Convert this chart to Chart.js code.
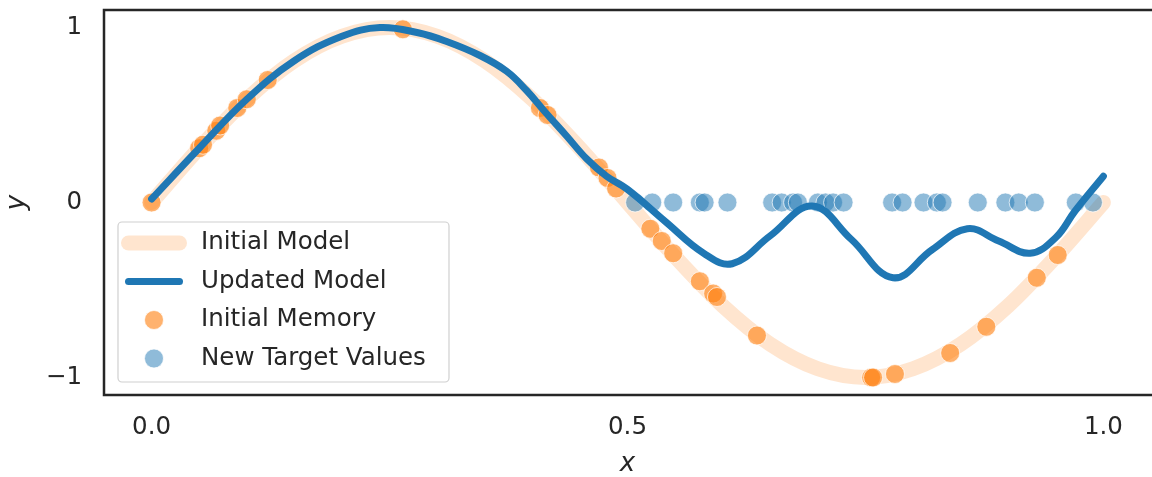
<!DOCTYPE html>
<html>
<head>
<meta charset="utf-8">
<script src="https://cdn.jsdelivr.net/npm/chart.js@4.4.1/dist/chart.umd.min.js"></script>
<style>
  html, body { margin: 0; padding: 0; background: #fff; }
  #wrap { width: 1152px; height: 477px; overflow: hidden; }
</style>
</head>
<body>
<div id="wrap"><canvas id="modelChart" width="1152" height="477"></canvas></div>
<script>
// initial model: the curve it was trained on
const modelX = [0, 0.05, 0.1, 0.15, 0.2, 0.25, 0.3, 0.35, 0.4, 0.45, 0.5,
                0.55, 0.6, 0.65, 0.7, 0.75, 0.8, 0.85, 0.9, 0.95, 1.0];
const initialY = [0, 0.31, 0.59, 0.81, 0.95, 1.0, 0.95, 0.81, 0.59, 0.31, 0,
                  -0.31, -0.59, -0.81, -0.95, -1.0, -0.95, -0.81, -0.59, -0.31, 0];

// model after the update
const updatedX = [0, 0.05, 0.1, 0.15, 0.2, 0.24, 0.28, 0.31, 0.345, 0.373, 0.394,
                  0.413, 0.436, 0.457, 0.478, 0.5, 0.54, 0.58, 0.61, 0.65, 0.694,
                  0.735, 0.779, 0.82, 0.857, 0.89, 0.923, 0.95, 0.97, 1.0];
const updatedY = [0.02, 0.31, 0.59, 0.81, 0.95, 1.0, 0.97, 0.92, 0.84, 0.75, 0.64,
                  0.52, 0.38, 0.25, 0.15, 0.075, -0.11, -0.29, -0.35, -0.19, -0.02,
                  -0.21, -0.43, -0.27, -0.15, -0.22, -0.29, -0.2, -0.05, 0.15];

// stored samples from the first fit
const memoryX = [0, 0.05, 0.054, 0.068, 0.072, 0.09, 0.1, 0.122, 0.264, 0.408, 0.416,
                 0.47, 0.479, 0.488, 0.524, 0.536, 0.548, 0.576, 0.59, 0.594, 0.636,
                 0.756, 0.758, 0.781, 0.839, 0.877, 0.93, 0.952];
const memoryY = [0, 0.31, 0.33, 0.41, 0.44, 0.54, 0.59, 0.7, 0.99, 0.54, 0.5,
                 0.2, 0.14, 0.08, -0.15, -0.22, -0.29, -0.45, -0.52, -0.54, -0.76,
                 -1.0, -1.0, -0.98, -0.86, -0.71, -0.43, -0.3];

// new targets, all at zero
const targetX = [0.508, 0.526, 0.548, 0.576, 0.581, 0.605, 0.652, 0.662, 0.674, 0.679,
                 0.7, 0.708, 0.716, 0.727, 0.778, 0.789, 0.811, 0.825, 0.831, 0.868,
                 0.897, 0.911, 0.928, 0.971, 0.989];
const targetY = [0, 0, 0, 0, 0, 0, 0, 0, 0, 0, 0, 0, 0, 0, 0, 0, 0, 0, 0, 0, 0, 0, 0, 0, 0];

const xTicks = [0, 0.5, 1.0];
const yTicks = [-1, 0, 1];

const FONT = "'DejaVu Sans', sans-serif";
const INK = "#262626";

function toPoints(xs, ys) {
  return xs.map((x, i) => ({ x: x, y: ys[i] }));
}

// spines on three sides plus a matplotlib-style legend box
const frameAndLegend = {
  id: "frameAndLegend",
  afterDraw(chart) {
    const ctx = chart.ctx;
    const a = chart.chartArea;
    ctx.save();
    ctx.strokeStyle = INK;
    ctx.lineWidth = 2.5;
    ctx.beginPath();
    ctx.moveTo(chart.width, a.top);
    ctx.lineTo(a.left, a.top);
    ctx.lineTo(a.left, a.bottom);
    ctx.lineTo(chart.width, a.bottom);
    ctx.stroke();

    const bx = a.left + 14, bw = 331, bh = 160;
    const by = a.bottom - 13 - bh;
    ctx.beginPath();
    ctx.roundRect(bx, by, bw, bh, 4);
    ctx.fillStyle = "rgba(255,255,255,0.8)";
    ctx.fill();
    ctx.strokeStyle = "#d0d0d0";
    ctx.lineWidth = 1.2;
    ctx.stroke();

    const ds = chart.data.datasets;
    const handleX = bx + 36;
    ctx.font = "24.5px " + FONT;
    ctx.textBaseline = "middle";
    ctx.textAlign = "left";
    ds.forEach((d, row) => {
      const cy = by + 21 + row * 38.5;
      if (d.showLine) {
        ctx.beginPath();
        ctx.moveTo(handleX - 25.5, cy);
        ctx.lineTo(handleX + 25.5, cy);
        ctx.lineCap = "round";
        ctx.strokeStyle = d.borderColor;
        ctx.lineWidth = d.borderWidth;
        ctx.stroke();
      } else {
        ctx.beginPath();
        ctx.arc(handleX, cy, d.pointRadius, 0, Math.PI * 2);
        ctx.fillStyle = d.backgroundColor;
        ctx.fill();
        ctx.strokeStyle = d.pointBorderColor;
        ctx.lineWidth = d.pointBorderWidth;
        ctx.stroke();
      }
      ctx.fillStyle = INK;
      ctx.fillText(d.label, bx + 83, cy);
    });
    ctx.restore();
  }
};

new Chart(document.getElementById("modelChart"), {
  type: "scatter",
  data: {
    datasets: [
      {
        label: "Initial Model",
        data: toPoints(modelX, initialY),
        showLine: true,
        borderColor: "rgba(255,127,14,0.2)",
        borderWidth: 15,
        borderCapStyle: "round",
        borderJoinStyle: "round",
        cubicInterpolationMode: "monotone",
        pointRadius: 0,
        order: 3
      },
      {
        label: "Updated Model",
        data: toPoints(updatedX, updatedY),
        showLine: true,
        borderColor: "#1f77b4",
        borderWidth: 7,
        borderCapStyle: "round",
        borderJoinStyle: "round",
        tension: 0.4,
        pointRadius: 0,
        order: 0
      },
      {
        label: "Initial Memory",
        data: toPoints(memoryX, memoryY),
        backgroundColor: "rgba(255,127,14,0.6)",
        pointBorderColor: "rgba(255,255,255,0.7)",
        pointBorderWidth: 1,
        pointRadius: 9.5,
        order: 1
      },
      {
        label: "New Target Values",
        data: toPoints(targetX, targetY),
        backgroundColor: "rgba(31,119,180,0.5)",
        pointBorderColor: "rgba(255,255,255,0.7)",
        pointBorderWidth: 1,
        pointRadius: 9.5,
        order: 2
      }
    ]
  },
  options: {
    responsive: false,
    animation: false,
    devicePixelRatio: 1,
    layout: { autoPadding: false, padding: { top: 10, right: 1, left: 0, bottom: 0 } },
    plugins: {
      legend: { display: false },
      tooltip: { enabled: false }
    },
    scales: {
      x: {
        type: "linear",
        min: -0.05,
        max: 1.05,
        grid: { display: false, drawTicks: false, tickLength: 0 },
        border: { display: false },
        afterBuildTicks: (scale) => { scale.ticks = xTicks.map(v => ({ value: v })); },
        afterFit: (scale) => {
          scale.height = 82;
          scale.paddingLeft = 0;
          scale.paddingRight = 0;
        },
        ticks: {
          padding: 18,
          color: INK,
          font: { family: FONT, size: 24.5 },
          callback: (v) => v.toFixed(1)
        },
        title: {
          display: true,
          text: "x",
          color: INK,
          font: { family: FONT, size: 26, style: "italic", lineHeight: 1 },
          padding: { top: 0, bottom: 0 }
        }
      },
      y: {
        type: "linear",
        min: -1.1,
        max: 1.1,
        grid: { display: false, drawTicks: false, tickLength: 0 },
        border: { display: false },
        afterBuildTicks: (scale) => { scale.ticks = yTicks.map(v => ({ value: v })); },
        afterFit: (scale) => {
          scale.width = 104;
          scale.paddingTop = 0;
          scale.paddingBottom = 0;
        },
        ticks: {
          padding: 22,
          color: INK,
          font: { family: FONT, size: 24.5 },
          callback: (v) => (v < 0 ? "\u2212" + Math.abs(v) : String(v))
        },
        title: {
          display: true,
          text: "y",
          color: INK,
          font: { family: FONT, size: 26, style: "italic", lineHeight: 1 },
          padding: { top: 4, bottom: 0 }
        }
      }
    }
  },
  plugins: [frameAndLegend]
});
</script>
</body>
</html>
